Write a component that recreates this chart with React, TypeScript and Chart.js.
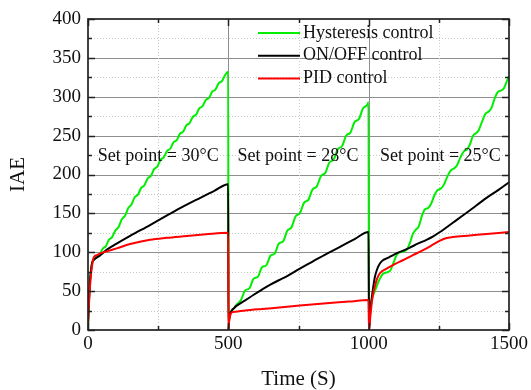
import React, { useEffect, useRef } from 'react';
import { Chart, registerables } from 'chart.js';

Chart.register(...registerables);

// ---------- data ----------
const X_TICK_STEP = 500;
const Y_TICK_STEP = 50;
const X_MAX = 1500;
const Y_MAX = 400;

const SERIES_NAMES = ['Hysteresis control', 'ON/OFF control', 'PID control'];
const SET_POINT_LABELS = ['Set point = 30°C', 'Set point = 28°C', 'Set point = 25°C'];
const SET_POINT_TIMES = [35, 533, 1040];
const SET_POINT_LEVEL = 223;

const hysteresisTime = [
  0, 3, 7, 11, 15, 20, 27, 33,
  40, 51.5, 63, 74.5, 86, 97.5, 109, 120.5, 132, 143.5, 155, 166.5, 178, 189.5, 201, 212.5, 224, 235.5,
  247, 258.5, 270, 281.5, 293, 304.5, 316, 327.5, 339, 350.5, 362, 373.5, 385, 396.5, 408, 419.5, 431,
  442.5, 454, 465.5, 477, 488.5, 499.5,
  500.5, 503, 507, 512, 520, 530,
  545, 560, 575, 590, 605, 620, 635, 650, 665, 680, 695, 710, 725, 740, 755, 770, 785, 800, 815, 830,
  845, 860, 875, 890, 905, 920, 935, 950, 965, 980, 995, 999.5,
  1001, 1003, 1010, 1022, 1040, 1050, 1062, 1076, 1088, 1099, 1110, 1125, 1137, 1147, 1158, 1168, 1178,
  1190, 1200, 1212, 1222, 1235, 1246, 1258, 1268, 1280, 1292, 1305, 1315, 1327, 1340, 1350, 1360, 1372,
  1382, 1392, 1404, 1416, 1428, 1438, 1450, 1460, 1472, 1482, 1490, 1500,
];
const hysteresisIAE = [
  5, 35, 62, 78, 86, 90, 93, 95,
  95.7, 104.2, 107.6, 116.1, 119.5, 128, 132.4, 142.3, 147, 156.8, 161.5, 170.7, 174.1, 182.8, 186.2, 194.8,
  198.2, 206.9, 210.3, 218.9, 222.1, 230.2, 233.1, 241.2, 244.1, 252.2, 255.1, 263.2, 266.1, 274.2, 277, 285,
  287.8, 295.7, 298.5, 306.5, 309.3, 317.2, 320, 328, 332,
  0, 14, 22, 25, 28, 33,
  38.5, 51, 53.5, 66, 68.4, 80.7, 83.1, 95.5, 98.3, 111.1, 113.9, 127.7, 132, 146.3, 150.3, 163.8, 167.3,
  180.8, 184.4, 198.1, 201.7, 215.4, 219, 232.7, 236.4, 250.1, 253.9, 267.6, 271.3, 285.1, 289.5, 293,
  0, 20, 38, 50, 66, 72, 74, 76, 86, 96, 100, 101, 104, 112, 124, 129, 133,
  147, 155, 157, 162, 174, 180, 182, 187, 197, 205, 208, 212, 222, 230, 232, 238, 250,
  253, 257, 268, 278, 281, 286, 299, 306, 308, 311, 318, 327,
];

const onOffTime = [
  0, 3, 7, 11, 15, 20, 26, 35, 43, 70, 102, 150, 221, 280, 340, 400, 450, 499.5,
  500.5, 503, 507, 512, 520, 529, 560, 589, 620, 648, 680, 708, 755, 800, 850, 898, 950, 999.5,
  1001, 1005, 1010, 1015, 1022, 1030, 1040, 1052, 1064, 1080, 1099, 1123, 1147, 1175, 1206, 1230,
  1254, 1300, 1361, 1420, 1460, 1500,
];
const onOffIAE = [
  5, 35, 62, 78, 87, 90, 92, 94, 96, 104, 111, 121, 135, 147, 159, 170, 179, 187.5,
  0, 14, 21, 25, 28, 31, 38, 45, 52, 58, 64, 69, 79, 88, 98, 107, 117, 126,
  0, 20, 38, 52, 68, 78, 85.5, 90, 92, 95, 98.5, 102, 106, 111, 116, 120.5,
  126, 138, 154, 170, 179.5, 190,
];

const pidTime = [
  0, 3, 7, 11, 15, 19, 24, 30, 43, 70, 102, 150, 221, 280, 340, 420, 499.5,
  500.5, 503, 507, 512, 525, 560, 620, 700, 755, 850, 930, 999.5,
  1001, 1004, 1008, 1013, 1018, 1022, 1030, 1040, 1064, 1090, 1111, 1135, 1159, 1185, 1206, 1230,
  1254, 1275, 1300, 1361, 1420, 1500,
];
const pidIAE = [
  8, 30, 55, 72, 84, 92, 95, 96, 98.5, 101.5, 105, 110.5, 116, 118.5, 120.5, 123, 125,
  0, 12, 19, 22.5, 23.5, 25, 27, 29.5, 31.5, 34.5, 36.5, 38.5,
  0, 10, 25, 40, 50, 56, 66, 73, 79, 84, 88, 92, 96.5, 101, 105, 110,
  115, 118, 119.5, 121.5, 123.5, 126,
];

const COLORS = ['#00ee00', '#000000', '#ff0000'];
const FONT = "'Liberation Serif', 'Times New Roman', serif";

const toPoints = (t: number[], v: number[]) => t.map((x, i) => ({ x, y: v[i] }));

const decorPlugin = {
  id: 'decor',
  beforeDatasetsDraw(chart: any) {
    const { ctx, chartArea: a, scales } = chart;
    const x = scales.x;
    const y = scales.y;
    ctx.save();
    ctx.lineWidth = 1;
    for (let v = Y_TICK_STEP / 2; v < Y_MAX; v += Y_TICK_STEP / 2) {
      const py = Math.round(y.getPixelForValue(v)) + 0.5;
      const major = v % Y_TICK_STEP === 0;
      ctx.strokeStyle = major ? '#8e8e8e' : '#c6c6c6';
      ctx.setLineDash(major ? [] : [1, 2]);
      ctx.beginPath();
      ctx.moveTo(a.left, py);
      ctx.lineTo(a.right, py);
      ctx.stroke();
    }
    for (let t = X_TICK_STEP / 2; t < X_MAX; t += X_TICK_STEP / 2) {
      const px = Math.round(x.getPixelForValue(t)) + 0.5;
      const major = t % X_TICK_STEP === 0;
      ctx.strokeStyle = major ? '#8e8e8e' : '#c6c6c6';
      ctx.setLineDash(major ? [] : [1, 2]);
      ctx.beginPath();
      ctx.moveTo(px, a.top);
      ctx.lineTo(px, a.bottom);
      ctx.stroke();
    }
    ctx.restore();
  },
  afterDatasetsDraw(chart: any) {
    const { ctx, chartArea: a, scales } = chart;
    const x = scales.x;
    const y = scales.y;
    ctx.save();
    // set point labels
    ctx.fillStyle = '#111';
    ctx.font = `18px ${FONT}`;
    ctx.textBaseline = 'middle';
    ctx.textAlign = 'left';
    SET_POINT_LABELS.forEach((s, i) => {
      ctx.fillText(s, x.getPixelForValue(SET_POINT_TIMES[i]), y.getPixelForValue(SET_POINT_LEVEL));
    });
    // legend
    const lx0 = a.left + 170;
    const lx1 = a.left + 212;
    SERIES_NAMES.forEach((name, i) => {
      const ly = a.top + 14 + i * 22.7;
      ctx.strokeStyle = COLORS[i];
      ctx.lineWidth = 2;
      ctx.beginPath();
      ctx.moveTo(lx0, ly);
      ctx.lineTo(lx1, ly);
      ctx.stroke();
      ctx.fillStyle = '#111';
      ctx.fillText(name, lx1 + 3, ly);
    });
    // ticks
    ctx.strokeStyle = '#222';
    ctx.lineWidth = 1.5;
    for (let v = 0; v <= Y_MAX; v += Y_TICK_STEP / 2) {
      const py = Math.round(y.getPixelForValue(v)) + 0.5;
      const len = v % Y_TICK_STEP === 0 ? 7 : 4;
      ctx.beginPath();
      ctx.moveTo(a.left, py);
      ctx.lineTo(a.left + len, py);
      ctx.moveTo(a.right, py);
      ctx.lineTo(a.right - len, py);
      ctx.stroke();
    }
    for (let t = 0; t <= X_MAX; t += X_TICK_STEP / 2) {
      const px = Math.round(x.getPixelForValue(t)) + 0.5;
      const len = t % X_TICK_STEP === 0 ? 7 : 4;
      ctx.beginPath();
      ctx.moveTo(px, a.bottom);
      ctx.lineTo(px, a.bottom - len);
      ctx.moveTo(px, a.top);
      ctx.lineTo(px, a.top + len);
      ctx.stroke();
    }
    // frame
    ctx.lineWidth = 1.7;
    ctx.strokeRect(a.left, a.top, a.right - a.left, a.bottom - a.top);
    ctx.restore();
  },
};

export default function App() {
  const ref = useRef<HTMLCanvasElement>(null);
  useEffect(() => {
    if (!ref.current) return;
    const chart = new Chart(ref.current, {
      type: 'line',
      data: {
        datasets: [
          {
            label: SERIES_NAMES[2],
            data: toPoints(pidTime, pidIAE),
            borderColor: COLORS[2],
            borderWidth: 2,
            pointRadius: 0,
            cubicInterpolationMode: 'monotone',
          },
          {
            label: SERIES_NAMES[1],
            data: toPoints(onOffTime, onOffIAE),
            borderColor: COLORS[1],
            borderWidth: 2,
            pointRadius: 0,
            cubicInterpolationMode: 'monotone',
          },
          {
            label: SERIES_NAMES[0],
            data: toPoints(hysteresisTime, hysteresisIAE),
            borderColor: COLORS[0],
            borderWidth: 2,
            pointRadius: 0,
            cubicInterpolationMode: 'monotone',
          },
        ],
      },
      options: {
        animation: false,
        responsive: false,
        devicePixelRatio: 1,
        layout: { padding: { top: 19, right: 22, left: 0, bottom: 0 } },
        plugins: { legend: { display: false }, tooltip: { enabled: false } },
        scales: {
          x: {
            type: 'linear',
            min: 0,
            max: X_MAX,
            grid: { display: false, drawTicks: false },
            border: { display: false },
            ticks: {
              stepSize: X_TICK_STEP,
              padding: 3,
              color: '#111',
              font: { family: FONT, size: 19 },
              maxRotation: 0,
              callback: (v: any) => String(v),
            },
            title: {
              display: true,
              text: 'Time (S)',
              color: '#111',
              font: { family: FONT, size: 21, lineHeight: 1 },
              padding: { top: 0, bottom: 0 },
            },
            afterFit: (s: any) => { s.height = 60; },
          },
          y: {
            type: 'linear',
            min: 0,
            max: Y_MAX,
            grid: { display: false, drawTicks: false },
            border: { display: false },
            ticks: {
              stepSize: Y_TICK_STEP,
              padding: 7,
              color: '#111',
              font: { family: FONT, size: 19 },
              callback: (v: any) => String(v),
            },
            title: {
              display: true,
              text: 'IAE',
              color: '#111',
              font: { family: FONT, size: 21, lineHeight: 1 },
              padding: { top: 7.5, bottom: 0 },
            },
            afterFit: (s: any) => { s.width = 88; },
          },
        },
      },
      plugins: [decorPlugin],
    } as any);
    return () => chart.destroy();
  }, []);
  return (
    <div style={{ position: 'absolute', left: 0, top: 0, width: 531, height: 390, background: '#fff' }}>
      <canvas ref={ref} width={531} height={390} />
    </div>
  );
}
